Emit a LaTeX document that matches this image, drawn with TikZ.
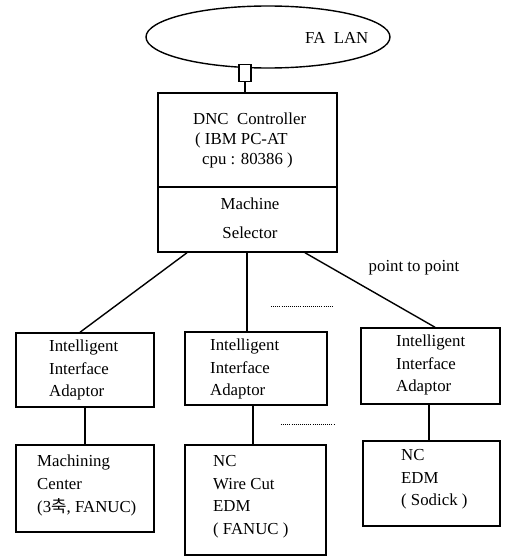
\documentclass[tikz,border=0pt]{standalone}
\usepackage{fontspec}
\setmainfont{Liberation Serif}
\newfontfamily\krfont{Noto Sans CJK KR}
\usetikzlibrary{shapes.geometric}
\tikzset{
  box/.style={draw, line width=1.5pt, inner sep=0pt},
  conn/.style={line width=1.4pt},
  lbl/.style={inner sep=0pt, align=left, font=\fontsize{16.8}{22.5}\selectfont},
  dotline/.style={line width=0.8pt, dash pattern=on 0.8pt off 1.3pt}
}
\begin{document}
\begin{tikzpicture}[x=1pt,y=-1pt]
\useasboundingbox (0,0) rectangle (506,557);
% LAN
\node[ellipse, draw, line width=1.4pt, minimum width=244pt, minimum height=62pt, inner sep=0pt] (lan) at (268,37) {};
\node[lbl, anchor=west] (lant) at (305,38) {FA\ \ LAN};
\node[box, line width=1.3pt, minimum width=12pt, minimum height=17pt, fill=white] (port) at (245,73) {};
% DNC controller
\node[box, minimum width=179pt, minimum height=94pt] (dnc) at (247.5,140) {};
\node[box, minimum width=179pt, minimum height=65pt] (sel) at (247.5,219.5) {};
\node[lbl, anchor=west, font=\fontsize{16.8}{20}\selectfont] (dnct) at (193,140)
  {DNC\ \ Controller\\\hspace*{2pt}( IBM PC-AT\\\hspace*{9pt}cpu : 80386 )};
\node[lbl, align=center, font=\fontsize{16.8}{29}\selectfont] (selt) at (250,218)
  {Machine\\Selector};
\draw[conn] (port.south) -- (port.south |- dnc.north);
% adaptors
\node[box, minimum width=138pt, minimum height=74pt] (iia1) at (85,370) {};
\node[box, minimum width=142pt, minimum height=73pt] (iia2) at (256,368.5) {};
\node[box, minimum width=139pt, minimum height=76pt] (iia3) at (430.5,366) {};
\node[lbl, anchor=west] (iia1t) at (49,370) {Intelligent\\Interface\\Adaptor};
\node[lbl, anchor=west] (iia2t) at (210,369) {Intelligent\\Interface\\Adaptor};
\node[lbl, anchor=west] (iia3t) at (396,365) {Intelligent\\Interface\\Adaptor};
% machines
\node[box, minimum width=138pt, minimum height=87pt] (mc) at (85,488.5) {};
\node[box, minimum width=141pt, minimum height=110pt] (wc) at (255.5,500) {};
\node[box, minimum width=137pt, minimum height=85pt] (edm) at (431.5,483.5) {};
\node[lbl, anchor=west, font=\fontsize{16.8}{23}\selectfont] (mct) at (37,485)
  {Machining\\Center\\(3{\krfont 축}, FANUC)};
\node[lbl, anchor=west] (wct) at (213,496.5) {NC\\Wire Cut\\EDM\\( FANUC )};
\node[lbl, anchor=west] (edmt) at (401,479.5) {NC\\EDM\\( Sodick )};
% connectors
\draw[conn] ([xshift=-60.5pt]sel.south) -- ([xshift=-5pt]iia1.north);
\draw[conn] ([xshift=-0.5pt]sel.south) -- ([xshift=-0.5pt]sel.south |- iia2.north);
\draw[conn] ([xshift=57.5pt]sel.south) -- ([xshift=4.5pt]iia3.north);
\draw[conn] (iia1.south) -- (iia1.south |- mc.north);
\draw[conn] ([xshift=-3pt]iia2.south) -- ([xshift=-3pt]iia2.south |- wc.north);
\draw[conn] ([xshift=-1.5pt]iia3.south) -- ([xshift=-1.5pt]iia3.south |- edm.north);
% labels and dotted lines
\node[lbl] (ptp) at (414,268) {point to point};
\coordinate (d1a) at (271,306);
\coordinate (d1b) at (333,306);
\coordinate (d2a) at (281,424);
\coordinate (d2b) at (335,424);
\draw[dotline] (d1a) -- (d1b);
\draw[dotline] (d2a) -- (d2b);
\end{tikzpicture}
\end{document}
